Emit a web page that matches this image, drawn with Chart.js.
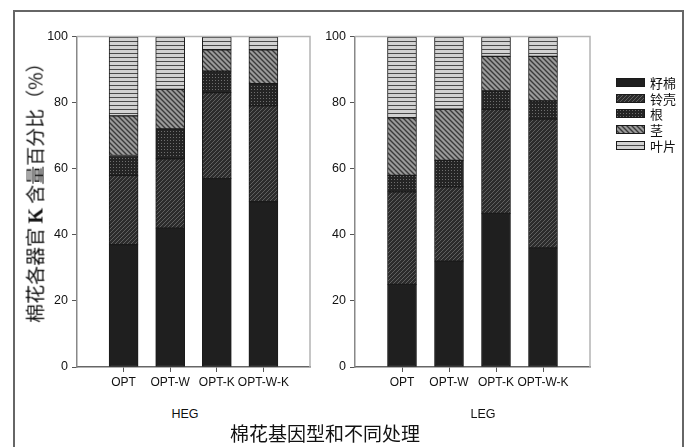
<!DOCTYPE html>
<html>
<head>
<meta charset="utf-8">
<script src="https://cdn.jsdelivr.net/npm/chart.js"></script>
<style>
  html, body { margin: 0; padding: 0; background: #fff; }
  body { width: 689px; height: 447px; position: relative; overflow: hidden;
         font-family: "Liberation Sans", Arial, sans-serif; color: #111; }
  .frame { position: absolute; left: 13px; top: 10px; width: 671px; height: 460px;
           border: 2px solid #666; box-sizing: border-box; }
  .box { position: absolute; }
  .box canvas { display: block; }
  .ylabel { position: absolute; left: 34px; top: 188px; white-space: nowrap;
            transform: translate(-50%, -50%) rotate(-90deg);
            font-family: "Noto Sans CJK SC", sans-serif; font-size: 19px; color: #111; }
  .ylabel b { font-family: "Liberation Serif", serif; font-size: 20px; }
  .group { position: absolute; top: 407px; font-size: 12.5px; transform: translateX(-50%); }
  .xtitle { position: absolute; left: 325px; top: 419px; transform: translateX(-50%);
            font-family: "Noto Sans CJK SC", sans-serif; font-size: 19px; white-space: nowrap; }
  .legend { position: absolute; left: 616px; top: 75px; }
  .legend div { height: 15.6px; display: flex; align-items: center; }
  .legend canvas { width: 29px; height: 9px; margin-right: 5px; }
  .legend span { font-family: "Noto Sans CJK SC", sans-serif; font-size: 13px; line-height: 13px; }
</style>
</head>
<body>
<div class="frame"></div>
<div class="box" style="left:22px;top:25px;width:298px;height:372px;"><canvas id="heg"></canvas></div>
<div class="box" style="left:300px;top:25px;width:300px;height:372px;"><canvas id="leg"></canvas></div>
<div class="ylabel">棉花各器官 <b>K</b> 含量百分比（%）</div>
<div class="group" style="left:185px;">HEG</div>
<div class="group" style="left:483px;">LEG</div>
<div class="xtitle">棉花基因型和不同处理</div>
<div class="legend" id="legend"></div>

<script>
// 處理與器官
const treatments = ['OPT', 'OPT-W', 'OPT-K', 'OPT-W-K'];
const organs = ['籽棉', '铃壳', '根', '茎', '叶片'];
const yTicks = [0, 20, 40, 60, 80, 100];

// HEG 各器官 K 百分比
const hegSeed  = [37, 42, 57, 50];
const hegShell = [21, 21, 26, 29];
const hegRoot  = [6, 9, 6.5, 6.7];
const hegStem  = [12, 12, 6.5, 10.3];
const hegLeaf  = [24, 16, 4, 4];

// LEG 各器官 K 百分比
const legSeed  = [25, 32, 46.5, 36];
const legShell = [28, 22.5, 31.5, 39];
const legRoot  = [5, 8, 5.5, 5.5];
const legStem  = [17.4, 15.5, 10.5, 13.5];
const legLeaf  = [24.6, 22, 6, 6];

// 圖樣填充
function tile(size, draw) {
    const c = document.createElement('canvas');
    c.width = size; c.height = size;
    draw(c.getContext('2d'), size);
    return c;
}

function diag(ctx, s, up) {
    ctx.beginPath();
    if (up) {
        ctx.moveTo(0, s); ctx.lineTo(s, 0);
        ctx.moveTo(-1, 1); ctx.lineTo(1, -1);
        ctx.moveTo(s - 1, s + 1); ctx.lineTo(s + 1, s - 1);
    } else {
        ctx.moveTo(0, 0); ctx.lineTo(s, s);
        ctx.moveTo(-1, s - 1); ctx.lineTo(1, s + 1);
        ctx.moveTo(s - 1, -1); ctx.lineTo(s + 1, 1);
    }
    ctx.stroke();
}

const tiles = [
    tile(4, (ctx, s) => { ctx.fillStyle = '#1f1f1f'; ctx.fillRect(0, 0, s, s); }),
    tile(4, (ctx, s) => {
        ctx.fillStyle = '#2c2c2c'; ctx.fillRect(0, 0, s, s);
        ctx.strokeStyle = '#606060'; ctx.lineWidth = 1; diag(ctx, s, true);
    }),
    tile(3, (ctx, s) => {
        ctx.fillStyle = '#242424'; ctx.fillRect(0, 0, s, s);
        ctx.fillStyle = '#6e6e6e'; ctx.fillRect(1, 1, 1, 1);
    }),
    tile(5, (ctx, s) => {
        ctx.fillStyle = '#9a9a9a'; ctx.fillRect(0, 0, s, s);
        ctx.strokeStyle = '#3a3a3a'; ctx.lineWidth = 1.4; diag(ctx, s, false);
    }),
    tile(4, (ctx, s) => {
        ctx.fillStyle = '#d2d2d2'; ctx.fillRect(0, 0, s, s);
        ctx.fillStyle = '#4a4a4a'; ctx.fillRect(0, 0, s, 1);
    })
];

const probe = document.createElement('canvas').getContext('2d');
const patterns = tiles.map(t => probe.createPattern(t, 'repeat'));

// 左右留空的類別，讓長條落在 1..4
const labels = [''].concat(treatments, ['']);
const pad = arr => [null].concat(arr, [null]);

const boxPlugin = {
    id: 'box',
    afterDraw(chart) {
        const a = chart.chartArea;
        const ctx = chart.ctx;
        ctx.save();
        ctx.strokeStyle = '#b4b4b4';
        ctx.lineWidth = 1.5;
        ctx.beginPath();
        ctx.moveTo(a.left, a.top);
        ctx.lineTo(a.right, a.top);
        ctx.lineTo(a.right, a.bottom);
        ctx.stroke();
        ctx.restore();
    }
};

function makeChart(id, series) {
    const datasets = series.map((vals, i) => ({
        label: organs[i],
        data: pad(vals),
        backgroundColor: patterns[i],
        borderColor: '#1a1a1a',
        borderWidth: 1,
        borderSkipped: false,
        barThickness: 29
    }));

    return new Chart(document.getElementById(id), {
        type: 'bar',
        data: { labels: labels, datasets: datasets },
        plugins: [boxPlugin],
        options: {
            responsive: true,
            maintainAspectRatio: false,
            animation: false,
            layout: { padding: { top: 10, right: 10, left: 0, bottom: 0 } },
            plugins: { legend: { display: false }, tooltip: { enabled: false } },
            scales: {
                x: {
                    stacked: true,
                    offset: false,
                    grid: {
                        offset: false,
                        drawOnChartArea: false,
                        tickLength: 5,
                        tickColor: c => (c.index === 0 || c.index === labels.length - 1) ? 'rgba(0,0,0,0)' : '#555'
                    },
                    border: { color: '#666', width: 1.5 },
                    ticks: {
                        autoSkip: false, maxRotation: 0, padding: 3,
                        color: '#111',
                        font: { family: 'Liberation Sans, Arial, sans-serif', size: 12 }
                    },
                    afterFit: s => { s.height = 30; }
                },
                y: {
                    stacked: true,
                    min: 0, max: 100,
                    afterBuildTicks: s => { s.ticks = yTicks.map(v => ({ value: v })); },
                    grid: { drawOnChartArea: false, tickLength: 5, tickColor: '#555' },
                    border: { color: '#888', width: 1.5 },
                    ticks: {
                        padding: 4,
                        color: '#111',
                        font: { family: 'Liberation Sans, Arial, sans-serif', size: 12.5 }
                    },
                    afterFit: s => { s.width = 55; }
                }
            }
        }
    });
}

makeChart('heg', [hegSeed, hegShell, hegRoot, hegStem, hegLeaf]);
makeChart('leg', [legSeed, legShell, legRoot, legStem, legLeaf]);

// 圖例
const legend = document.getElementById('legend');
organs.forEach((name, i) => {
    const row = document.createElement('div');
    const sw = document.createElement('canvas');
    sw.width = 29; sw.height = 9;
    const ctx = sw.getContext('2d');
    ctx.fillStyle = ctx.createPattern(tiles[i], 'repeat');
    ctx.fillRect(0, 0, 29, 9);
    ctx.strokeStyle = '#1a1a1a';
    ctx.strokeRect(0.5, 0.5, 28, 8);
    const txt = document.createElement('span');
    txt.textContent = name;
    row.appendChild(sw);
    row.appendChild(txt);
    legend.appendChild(row);
});
</script>
</body>
</html>
